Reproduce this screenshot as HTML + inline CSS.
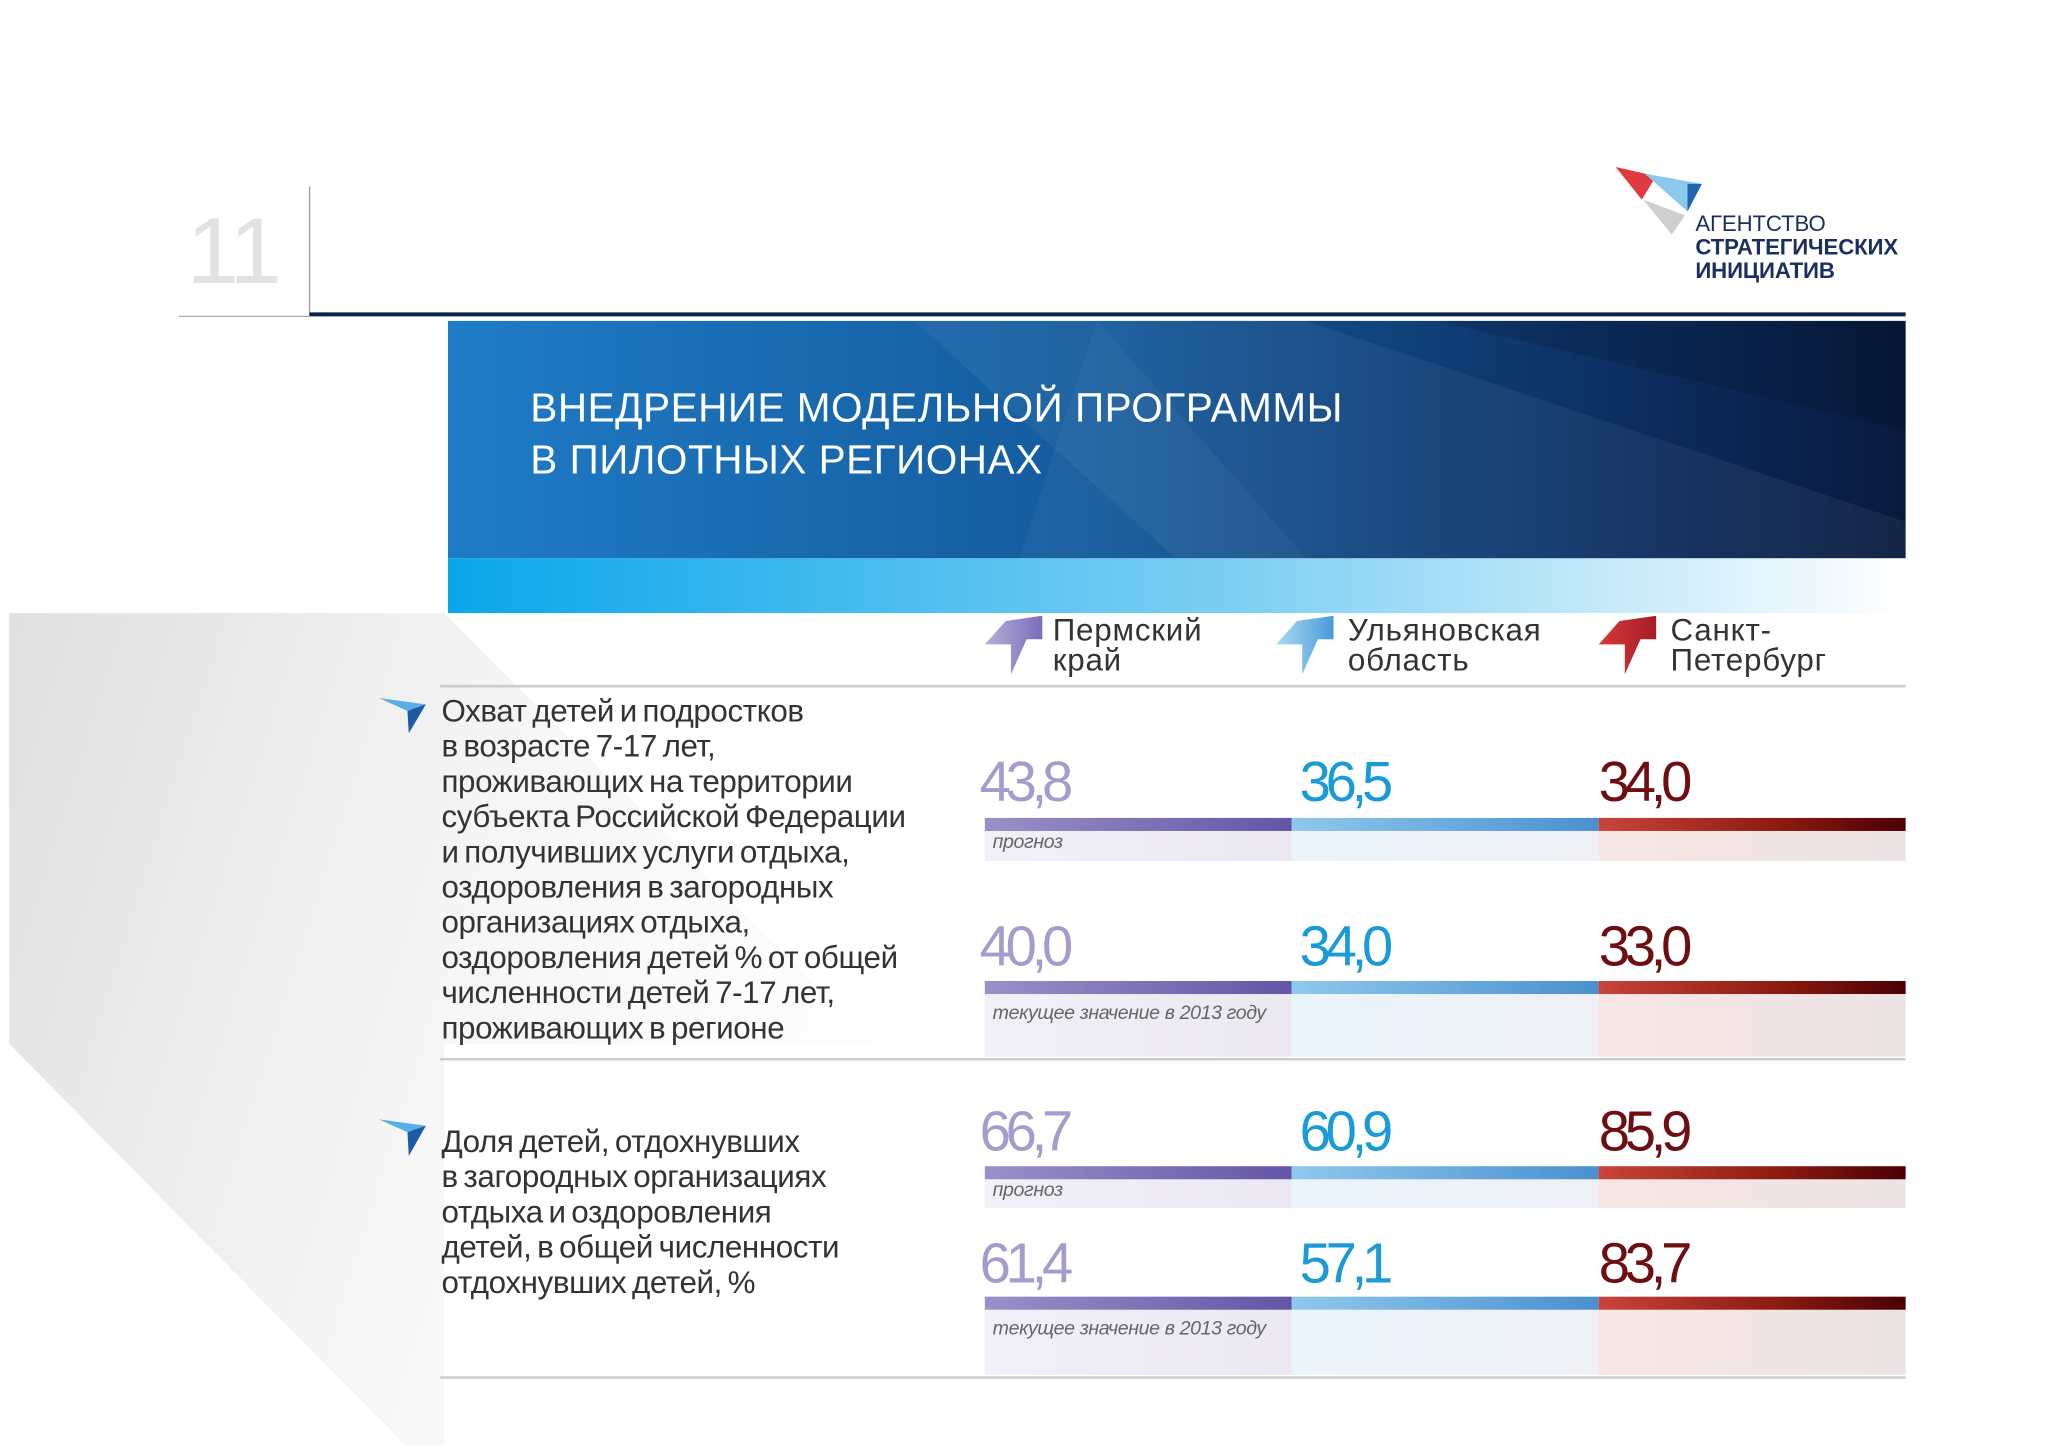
<!DOCTYPE html>
<html><head><meta charset="utf-8">
<style>
html,body{margin:0;padding:0;background:#fff;width:2048px;height:1448px;overflow:hidden}
#stage{position:absolute;left:0;top:0;width:1568px;height:1110px;transform:scale(1.30612,1.30450);transform-origin:0 0;font-family:"Liberation Sans","DejaVu Sans",sans-serif;color:#333}
.abs{position:absolute}
.hdr{font-size:24px;line-height:23px;color:#333;letter-spacing:0.6px;white-space:nowrap}
.lbl{font-size:24px;line-height:27px;color:#333;letter-spacing:-0.3px;word-spacing:-2px;white-space:nowrap}
.num{position:absolute;font-size:43px;letter-spacing:-4px;font-weight:normal;line-height:43px}
.note{position:absolute;font-size:15px;font-style:italic;color:#666;letter-spacing:-0.3px;white-space:nowrap}
</style></head>
<body>
<div id="stage">
<svg class="abs" style="left:0;top:0" width="1568" height="1110">
 <defs>
  <linearGradient id="gbg" x1="0" y1="0" x2="1" y2="0.3"><stop offset="0" stop-color="#e0e0e0"/><stop offset="0.6" stop-color="#f6f6f6"/><stop offset="1" stop-color="#fdfdfd"/></linearGradient>
  <linearGradient id="gban" x1="0" y1="0" x2="1" y2="0"><stop offset="0" stop-color="#1f7cc6"/><stop offset="0.45" stop-color="#145a9c"/><stop offset="0.8" stop-color="#0c2f62"/><stop offset="1" stop-color="#091a3e"/></linearGradient>
  <linearGradient id="gstr" x1="0" y1="0" x2="1" y2="0"><stop offset="0" stop-color="#0aa6ea"/><stop offset="0.55" stop-color="#7fd0f3"/><stop offset="1" stop-color="#ffffff"/></linearGradient>
 </defs>
 <polygon points="7,470 340,470 670,800 340,800 340,1108 310,1108 7,800" fill="url(#gbg)"/>
 <rect x="343" y="246" width="1116" height="182" fill="url(#gban)"/>
 <polygon points="700,246 1000,246 1459,400 1459,428 900,428" fill="#ffffff" opacity="0.05"/>
 <polygon points="1100,246 1459,246 1459,330" fill="#000" opacity="0.12"/>
 <polygon points="840,246 1000,428 780,428" fill="#fff" opacity="0.04"/>
 <rect x="343" y="428" width="1116" height="42" fill="url(#gstr)"/>
 <line x1="237" y1="143" x2="237" y2="242" stroke="#999" stroke-width="1"/>
 <line x1="137" y1="242.5" x2="237" y2="242.5" stroke="#aaa" stroke-width="1"/>
 <line x1="237" y1="241" x2="1459" y2="241" stroke="#0d2048" stroke-width="3"/>
 <line x1="337" y1="526" x2="1459" y2="526" stroke="#ccc" stroke-width="2"/>
 <line x1="337" y1="812" x2="1459" y2="812" stroke="#ccc" stroke-width="2"/>
 <line x1="337" y1="1056" x2="1459" y2="1056" stroke="#ccc" stroke-width="2"/>
 <polygon points="1237,128 1268,135 1257,153" fill="#e03a3e"/>
 <polygon points="1259,133 1303,141 1292,162" fill="#8cc8ec"/>
 <polygon points="1292,141 1303,141 1292,162" fill="#1e66b0"/>
 <polygon points="1258,153 1290,165 1280,180" fill="#cfcfcf"/>
 <polygon points="290,535 326,540 313,562 312,545" fill="#5aaee6"/>
 <polygon points="312,545 326,540 313,562" fill="#1c5aa5"/>
 <polygon points="290,858 326,863 313,886 312,868" fill="#5aaee6"/>
 <polygon points="312,868 326,863 313,886" fill="#1c5aa5"/>
</svg>
<div class="abs" style="left:143px;top:152px;font-size:72px;color:#e2e2e2;letter-spacing:-2px">11</div>
<div class="abs" style="left:1298px;top:163px;font-size:17px;line-height:18px;color:#1b2f5e;letter-spacing:-0.1px">АГЕНТСТВО<br><b>СТРАТЕГИЧЕСКИХ<br>ИНИЦИАТИВ</b></div>
<div class="abs" style="left:406px;top:293px;font-size:31px;line-height:40px;color:#fff;letter-spacing:0.4px;white-space:nowrap">ВНЕДРЕНИЕ МОДЕЛЬНОЙ ПРОГРАММЫ<br>В ПИЛОТНЫХ РЕГИОНАХ</div>
<div class="abs lbl" style="left:338px;top:532px">Охват детей и подростков<br>в возрасте 7-17 лет,<br>проживающих на территории<br>субъекта Российской Федерации<br>и получивших услуги отдыха,<br>оздоровления в загородных<br>организациях отдыха,<br>оздоровления детей % от общей<br>численности детей 7-17 лет,<br>проживающих в регионе</div>
<div class="abs lbl" style="left:338px;top:862px">Доля детей, отдохнувших<br>в загородных организациях<br>отдыха и оздоровления<br>детей, в общей численности<br>отдохнувших детей, %</div>
<div id="chart" class="abs" style="left:0;top:0"></div>
<script>
const regions=["Пермский<br>край","Ульяновская<br>область","Санкт-<br>Петербург"];
const row1Forecast=["43,8","36,5","34,0"];
const row1Current=["40,0","34,0","33,0"];
const row2Forecast=["66,7","60,9","85,9"];
const row2Current=["61,4","57,1","83,7"];
const rowNotes=["прогноз","текущее значение в 2013 году","прогноз","текущее значение в 2013 году"];
const colX=[754,989,1224], colW=235;
const numColors=["#a59ccd","#1a9ad8","#6e0d12"];
const barGrads=["linear-gradient(90deg,#9a90c9,#6455a6)","linear-gradient(90deg,#8fc8ec,#4a90cf)","linear-gradient(90deg,#c8443a,#8a1a10 60%,#4a0004)"];
const fillGrads=["linear-gradient(90deg,#f1eff7,#ebe8f1)","linear-gradient(90deg,#eaf4fb,#eef0f6)","linear-gradient(90deg,#f7e6e3,#ece3e4)"];
const iconCols=[["#b7b0da","#7b6cb8"],["#a9dcf5","#4a9ad8"],["#d6383c","#a51e24"]];
const rows=[{v:row1Forecast,numTop:579,barY:627,fillH:23},{v:row1Current,numTop:705,barY:752,fillH:48},{v:row2Forecast,numTop:847,barY:894,fillH:22},{v:row2Current,numTop:948,barY:994,fillH:50}];
const numOff=[-4,6,0];
const root=document.getElementById('chart');
regions.forEach((r,i)=>{
  const ic=document.createElementNS("http://www.w3.org/2000/svg","svg");
  
  
  ic.setAttribute('width','50');ic.setAttribute('height','50');
  ic.style.position='absolute';ic.style.left=(colX[i]+(i==1?-12:0)+(i==2?0:0))+'px';ic.style.top='472px';
  ic.innerHTML=`<defs><linearGradient id="ig${i}" x1="0" x2="1"><stop offset="0" stop-color="${iconCols[i][0]}"/><stop offset="1" stop-color="${iconCols[i][1]}"/></linearGradient></defs><polygon points="0,22 16,4 44,0 44,18 32,18 20,45 20,22" fill="url(#ig${i})"/>`;
  root.appendChild(ic);
  const h=document.createElement('div');
  
  
  h.className='abs hdr';h.style.left=(colX[i]+52+(i==1?-9:0)+(i==2?3:0))+'px';h.style.top='472px';h.innerHTML=r;
  root.appendChild(h);
});
rows.forEach((row,ri)=>{
  row.v.forEach((val,i)=>{
    const f=document.createElement('div');
    
    
    f.className='abs';f.style.cssText=`left:${colX[i]}px;top:${row.barY+10}px;width:${colW}px;height:${row.fillH}px;background:${fillGrads[i]}`;
    root.appendChild(f);
    const b=document.createElement('div');
    
    
    b.className='abs';b.style.cssText=`left:${colX[i]}px;top:${row.barY}px;width:${colW}px;height:10px;background:${barGrads[i]}`;
    root.appendChild(b);
    const n=document.createElement('div');
    
    
    n.className='num';n.style.left=(colX[i]+numOff[i])+'px';n.style.top=row.numTop+'px';n.style.color=numColors[i];n.textContent=val;
    root.appendChild(n);
  });
  const t=document.createElement('div');
  
  
  t.className='note';t.style.left='760px';t.style.top=(row.barY+(ri%2?16:10))+'px';t.textContent=rowNotes[ri];
  root.appendChild(t);
});
</script>
</div>
</body></html>
